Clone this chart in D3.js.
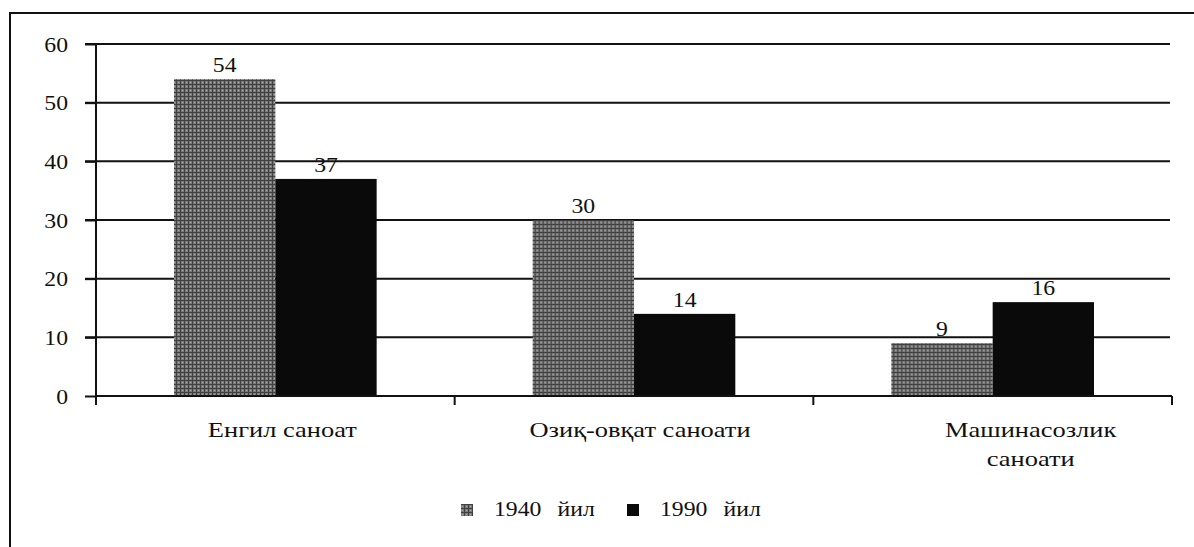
<!DOCTYPE html>
<html>
<head>
<meta charset="utf-8">
<script src="https://cdn.jsdelivr.net/npm/d3@7"></script>
<style>
  html, body { margin: 0; padding: 0; background: #fff; }
  svg { display: block; }
  text { font-family: "Liberation Serif", "Times New Roman", serif; fill: #111; }
</style>
</head>
<body>
<svg id="chart" width="1194" height="547"></svg>
<script>
const categories = ["Енгил саноат", "Озиқ-овқат саноати", "Машинасозлик саноати"];
const categoryLines = [["Енгил саноат"], ["Озиқ-овқат саноати"], ["Машинасозлик", "саноати"]];
const seriesNames = ["1940 йил", "1990 йил"];
const values1940 = [54, 30, 9];
const values1990 = [37, 14, 16];
const yTicks = [0, 10, 20, 30, 40, 50, 60];

(function () {
const svg = d3.select("#chart");
const defs = svg.append("defs");
const pat = defs.append("pattern")
  .attr("id", "gray").attr("patternUnits", "userSpaceOnUse")
  .attr("width", 4).attr("height", 4);
pat.append("rect").attr("width", 4).attr("height", 4).attr("fill", "#7c7c7c");
pat.append("rect").attr("x", 0).attr("y", 0).attr("width", 4).attr("height", 1).attr("fill", "#404040");
pat.append("rect").attr("x", 0).attr("y", 0).attr("width", 1).attr("height", 4).attr("fill", "#404040");
pat.append("rect").attr("x", 2).attr("y", 2).attr("width", 1).attr("height", 1).attr("fill", "#a8a8a8");

const colors = ["url(#gray)", "#0a0a0a"];
const series = [values1940, values1990];
const FS = 21, SX_NUM = 1.13, SX_TXT = 1.26;

function label(g, x, y, str, anchor, sx) {
  return g.append("text")
    .attr("transform", `translate(${x},${y}) scale(${sx},1)`)
    .attr("text-anchor", anchor).attr("font-size", FS).text(str);
}

// outer frame (top and left)
svg.append("line").attr("x1", 9).attr("x2", 1194).attr("y1", 13).attr("y2", 13)
  .attr("stroke", "#111").attr("stroke-width", 2);
svg.append("line").attr("x1", 10).attr("x2", 10).attr("y1", 13).attr("y2", 547)
  .attr("stroke", "#111").attr("stroke-width", 2);

const mLeft = 96, mRight = 1172, mTop = 44, mBottom = 396;
const x = d3.scaleBand().domain(categories).range([mLeft, mRight]).paddingInner(0).paddingOuter(0);
const y = d3.scaleLinear().domain([0, 60]).range([mBottom, mTop]);
const xs = d3.scaleBand().domain([0, 1]).range([0, x.bandwidth()]).paddingInner(0).paddingOuter(0.77);

// gridlines
svg.append("g").selectAll("line").data(yTicks.filter(d => d > 0)).join("line")
  .attr("x1", mLeft - 11).attr("x2", mRight - 2)
  .attr("y1", d => y(d)).attr("y2", d => y(d))
  .attr("stroke", "#111").attr("stroke-width", 2);

// y axis
const yAxis = svg.append("g").attr("transform", `translate(${mLeft},0)`)
  .call(d3.axisLeft(y).tickValues(yTicks).tickSize(11).tickFormat(d3.format("d")));
yAxis.select(".domain").remove();
yAxis.selectAll(".tick line").attr("stroke", "#111").attr("stroke-width", 2);
yAxis.selectAll(".tick text")
  .attr("x", null).attr("dy", null)
  .attr("transform", `translate(-28,7) scale(${SX_NUM},1)`)
  .attr("font-size", FS).attr("font-family", null).attr("fill", "#111");
svg.append("line").attr("x1", mLeft).attr("x2", mLeft).attr("y1", mTop).attr("y2", mBottom + 9)
  .attr("stroke", "#111").attr("stroke-width", 2);

// bars
const groups = svg.append("g").selectAll("g").data(categories).join("g")
  .attr("transform", d => `translate(${x(d)},0)`);
series.forEach((vals, si) => {
  groups.append("rect")
    .attr("x", xs(si)).attr("width", xs.bandwidth())
    .attr("y", (d, i) => y(vals[i])).attr("height", (d, i) => y(0) - y(vals[i]))
    .attr("fill", colors[si]);
  groups.each(function (d, i) {
    label(d3.select(this), xs(si) + xs.bandwidth() / 2, y(vals[i]) - 7, vals[i], "middle", SX_NUM);
  });
});

// x axis baseline and ticks
svg.append("line").attr("x1", mLeft).attr("x2", mRight).attr("y1", y(0)).attr("y2", y(0))
  .attr("stroke", "#111").attr("stroke-width", 2);
const boundaries = categories.map(c => x(c) + x.bandwidth()).concat([mLeft]);
svg.append("g").selectAll("line").data(boundaries).join("line")
  .attr("x1", d => d).attr("x2", d => d).attr("y1", y(0)).attr("y2", y(0) + 9)
  .attr("stroke", "#111").attr("stroke-width", 2);

// category labels
const labelShift = [7, 6, 38];
groups.each(function (d, i) {
  const g = d3.select(this);
  categoryLines[i].forEach((ln, k) => {
    label(g, x.bandwidth() / 2 + labelShift[i], 437 + k * 29, ln, "middle", SX_TXT);
  });
});

// legend
const legend = svg.append("g");
const legendPos = [461, 627];
seriesNames.forEach((nm, i) => {
  const gx = legendPos[i];
  legend.append("rect").attr("x", gx).attr("y", 504).attr("width", 12).attr("height", 12)
    .attr("fill", colors[i]);
  label(legend, gx + (i === 0 ? 33 : 33), 516, nm, "start", SX_NUM)
    .attr("word-spacing", 9);
});
})();
</script>
</body>
</html>
